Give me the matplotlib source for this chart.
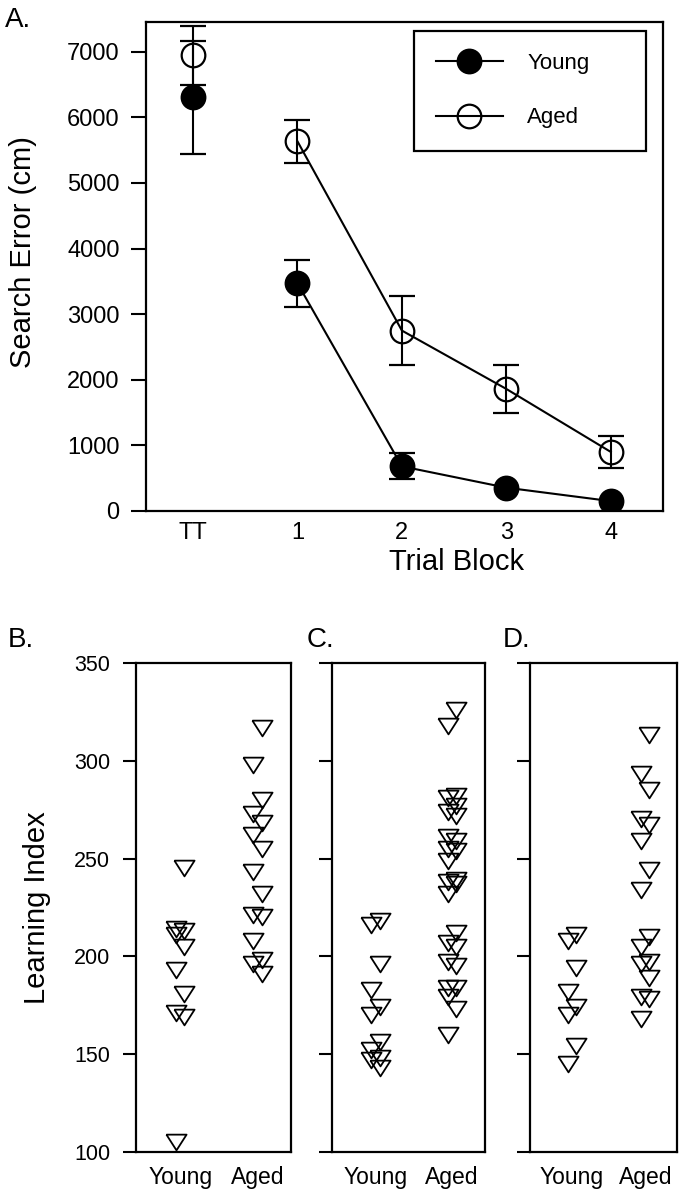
import numpy as np
import matplotlib
matplotlib.use('Agg')
import matplotlib.pyplot as plt
from matplotlib.lines import Line2D

plt.rcParams['font.family'] = ['Liberation Sans', 'DejaVu Sans']

# -------------------------------------------------------------------------
# data
# -------------------------------------------------------------------------

# A. search error (cm) per trial block, mean and sem
blocks = ['TT', '1', '2', '3', '4']
young_err = [6305, 3470, 680, 355, 150]
young_sem = [860, 360, 200, np.nan, np.nan]   # bars hidden behind symbol
aged_err = [6950, 5635, 2750, 1860, 900]
aged_sem = [450, 330, 520, 360, 245]

# B.-D. learning index for each rat
groups = ['Young', 'Aged']
b_young = [245, 214, 213, 211, 205, 193, 181, 171, 169, 105]
b_aged = [317, 298, 280, 273, 268, 262, 255, 243, 232, 221, 220, 208,
          198, 196, 191]
c_young = [218, 216, 196, 183, 174, 170, 156, 152, 148, 147, 143]
c_aged = [326, 318, 282, 281, 277, 274, 272, 261, 259, 255, 254, 249,
          239, 238, 237, 232, 212, 207, 205, 197, 195, 184, 184, 179,
          173, 160]
d_young = [211, 208, 194, 182, 174, 170, 154, 145]
d_aged = [313, 293, 285, 270, 267, 259, 244, 234, 210, 205, 197, 196,
          189, 179, 178, 168]

# -------------------------------------------------------------------------
# figure
# -------------------------------------------------------------------------

fig = plt.figure(figsize=(6.84, 12), dpi=100)

axA = fig.add_axes([0.2135, 0.5742, 0.7558, 0.4075])
x = np.arange(len(blocks))

axA.errorbar(x, young_err, yerr=young_sem, fmt='o', color='k', ms=17,
             mfc='k', mec='k', mew=1.6, elinewidth=1.5, capsize=9.5,
             capthick=1.5, zorder=3)
axA.errorbar(x, aged_err, yerr=aged_sem, fmt='o', color='k', ms=17,
             mfc='none', mec='k', mew=1.6, elinewidth=1.5, capsize=9.5,
             capthick=1.5, zorder=3)
axA.plot(x[1:], young_err[1:], color='k', lw=1.5, zorder=2)
axA.plot(x[1:], aged_err[1:], color='k', lw=1.5, zorder=2)

axA.set_xlim(-0.45, 4.5)
axA.set_ylim(0, 7455)
axA.set_xticks(x)
axA.set_xticklabels(blocks)
axA.set_yticks(np.arange(0, 7001, 1000))
axA.tick_params(axis='y', direction='out', length=11, width=1.5,
                labelsize=17, pad=8)
axA.tick_params(axis='x', length=0, labelsize=17, pad=8)
for s in axA.spines.values():
    s.set_linewidth(1.6)
axA.set_ylabel('Search Error (cm)', fontsize=21)
axA.yaxis.set_label_coords(-0.21, 0.53)
axA.set_xlabel('Trial Block', fontsize=21)
axA.xaxis.set_label_coords(0.60, -0.075)

handles = [Line2D([0], [0], color='k', lw=1.5, marker='o', ms=17,
                  mfc='k', mec='k', mew=1.6),
           Line2D([0], [0], color='k', lw=1.5, marker='o', ms=17,
                  mfc='none', mec='k', mew=1.6)]
leg = axA.legend(handles, groups, loc='upper left',
                 bbox_to_anchor=(0.518, 0.728, 0.449, 0.254), mode='expand',
                 borderaxespad=0, fontsize=16, handlelength=3,
                 handletextpad=1.1, borderpad=1.0, labelspacing=1.5,
                 fancybox=False, framealpha=1, edgecolor='k')
leg.get_frame().set_linewidth(1.6)

fig.text(0.007, 0.994, 'A.', fontsize=20, va='top', ha='left')

# triangle symbol, wider than tall
tri = [(-1, 0.78), (1, 0.78), (0, -0.78), (-1, 0.78)]


def strip(ax, young, aged):
    for i, vals in enumerate([young, aged]):
        side = np.where(np.arange(len(vals)) % 2 == 0, 1, -1)
        ax.plot(i + 0.055 * side, vals, ls='none', marker=tri, ms=14.5,
                mfc='none', mec='k', mew=1.3)
    ax.set_xlim(-0.57, 1.43)
    ax.set_ylim(100, 350)
    ax.set_xticks([0, 1])
    ax.set_xticklabels(groups)
    ax.set_yticks(np.arange(100, 351, 50))
    ax.tick_params(axis='y', direction='out', length=9.5, width=1.5,
                   labelsize=15.5, pad=9)
    ax.tick_params(axis='x', length=0, labelsize=16.5, pad=10)
    for s in ax.spines.values():
        s.set_linewidth(1.6)


axB = fig.add_axes([0.1988, 0.04, 0.2266, 0.4075])
axC = fig.add_axes([0.4854, 0.04, 0.2237, 0.4075])
axD = fig.add_axes([0.7749, 0.04, 0.2149, 0.4075])
strip(axB, b_young, b_aged)
strip(axC, c_young, c_aged)
strip(axD, d_young, d_aged)
axC.set_yticklabels([])
axD.set_yticklabels([])

axB.set_ylabel('Learning Index', fontsize=21)
axB.yaxis.set_label_coords(-0.55, 0.5)

fig.text(0.012, 0.4775, 'B.', fontsize=20, va='top', ha='left')
fig.text(0.449, 0.4775, 'C.', fontsize=20, va='top', ha='left')
fig.text(0.735, 0.4775, 'D.', fontsize=20, va='top', ha='left')

fig.savefig('out.png', dpi=100)
